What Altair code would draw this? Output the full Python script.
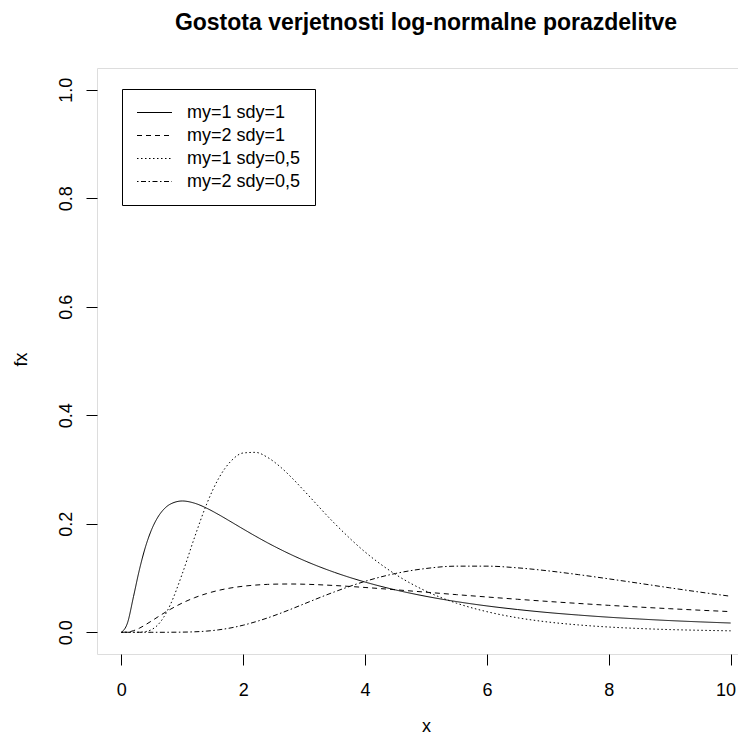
import altair as alt
import pandas as pd

# x grid and density values
x_vals = [0, 0.1, 0.2, 0.3, 0.4, 0.5, 0.6, 0.7, 0.8, 1.0, 1.2, 1.4, 1.6, 1.8, 2.0,
          2.2, 2.4, 2.6, 2.8, 3.0, 3.5, 4.0, 4.5, 5.0, 5.5, 6.0, 6.5, 7.0, 7.5,
          8.0, 8.5, 9.0, 9.5, 10.0]
f_m1_s1 = [0, 0.0171, 0.0663, 0.1172, 0.1590, 0.1903, 0.2124, 0.2271, 0.2360, 0.2420,
           0.2380, 0.2287, 0.2167, 0.2036, 0.1903, 0.1773, 0.1649, 0.1533, 0.1424, 0.1323,
           0.1104, 0.0926, 0.0781, 0.0663, 0.0566, 0.0486, 0.0420, 0.0364, 0.0318, 0.0278,
           0.0245, 0.0216, 0.0192, 0.0171]
f_m2_s1 = [0, 0.0004, 0.0030, 0.0078, 0.0142, 0.0212, 0.0284, 0.0355, 0.0421, 0.0540,
           0.0637, 0.0714, 0.0774, 0.0818, 0.0849, 0.0870, 0.0883, 0.0889, 0.0890, 0.0886,
           0.0862, 0.0826, 0.0784, 0.0739, 0.0694, 0.0651, 0.0609, 0.0569, 0.0532, 0.0497,
           0.0465, 0.0435, 0.0407, 0.0381]
f_m1_s05 = [0, 0.0, 0.0, 0.0002, 0.0013, 0.0052, 0.0138, 0.0287, 0.0500, 0.1080,
            0.1746, 0.2363, 0.2843, 0.3156, 0.3305, 0.3316, 0.3223, 0.3057, 0.2845, 0.2608,
            0.2006, 0.1480, 0.1067, 0.0759, 0.0537, 0.0380, 0.0268, 0.0190, 0.0136, 0.0097,
            0.0070, 0.0050, 0.0037, 0.0027]
f_m2_s05 = [0, 0, 0, 0, 0, 0, 0, 0.0, 0.0001, 0.0003,
            0.0009, 0.0022, 0.0046, 0.0082, 0.0131, 0.0193, 0.0265, 0.0346, 0.0433, 0.0524,
            0.0746, 0.0939, 0.1084, 0.1176, 0.1219, 0.1219, 0.1188, 0.1133, 0.1063, 0.0985,
            0.0903, 0.0820, 0.0740, 0.0664]

series_names = ["my=1 sdy=1", "my=2 sdy=1", "my=1 sdy=0,5", "my=2 sdy=0,5"]
series_vals = [f_m1_s1, f_m2_s1, f_m1_s05, f_m2_s05]
x_ticks = [0, 2, 4, 6, 8, 10]
y_ticks = [0.0, 0.2, 0.4, 0.6, 0.8, 1.0]

rows = []
for name, vals in zip(series_names, series_vals):
    for xv, yv in zip(x_vals, vals):
        rows.append({"x": xv, "fx": yv, "serija": name})
df = pd.DataFrame(rows)

FONT = "Liberation Sans"
W, H = 658, 586

chart = alt.Chart(df).mark_line(color="black", strokeWidth=1, interpolate="monotone").encode(
    x=alt.X("x:Q",
            scale=alt.Scale(domain=[-0.4, 10.4], nice=False, zero=False),
            axis=alt.Axis(values=x_ticks, title="x", grid=False, domain=False,
                          tickSize=11, tickColor="black", labelFontSize=18,
                          labelColor="black", labelFont=FONT, labelPadding=16,
                          labelBaseline="top", labelFlush=False, labelOverlap=False,
                          labelOffset={"condition": {"test": "datum.value == 10", "value": -5},
                                       "value": 0},
                          titleFont=FONT, titleFontSize=18, titleFontWeight="normal",
                          titleColor="black", titleX=329, titleY=77,
                          titleBaseline="alphabetic")),
    y=alt.Y("fx:Q",
            scale=alt.Scale(domain=[-0.04, 1.04], nice=False, zero=False),
            axis=alt.Axis(values=y_ticks, format=".1f", title="fx", grid=False,
                          domain=False, tickSize=11, tickColor="black",
                          labelFontSize=18, labelColor="black", labelFont=FONT,
                          labelAngle=270, labelAlign="center",
                          labelBaseline="alphabetic", labelPadding=15,
                          labelFlush=False, labelOverlap=False,
                          titleFont=FONT, titleFontSize=18, titleFontWeight="normal",
                          titleColor="black", titleAngle=270, titleX=-71, titleY=291,
                          titleBaseline="alphabetic")),
    strokeDash=alt.StrokeDash("serija:N",
                              scale=alt.Scale(domain=series_names,
                                              range=[[1, 0], [5, 4], [1.5, 2.5], [1.5, 2.5, 5, 2.5]]),
                              legend=alt.Legend(orient="none", legendX=25, legendY=21,
                                                title=None, strokeColor="black",
                                                fillColor="white", padding=14,
                                                symbolType="M-2,0H2", symbolSize=306,
                                                symbolStrokeWidth=1,
                                                symbolStrokeColor="black",
                                                symbolOffset=9,
                                                labelFontSize=18, labelFont=FONT,
                                                labelColor="black", labelOffset=23,
                                                rowPadding=4)),
    order=alt.Order("x:Q"),
).properties(
    width=W,
    height=H,
    autosize=alt.AutoSizeParams(type="none"),
    padding={"left": 89, "top": 60, "right": -17, "bottom": 80},
    title=alt.Title("Gostota verjetnosti log-normalne porazdelitve",
                    font=FONT, fontSize=23, fontWeight="bold", color="black",
                    anchor="middle", offset=33),
).configure_view(
    stroke="black", strokeWidth=1
).configure(background="white")

chart.save("out.html", embed_options={"renderer": "svg", "actions": False})
